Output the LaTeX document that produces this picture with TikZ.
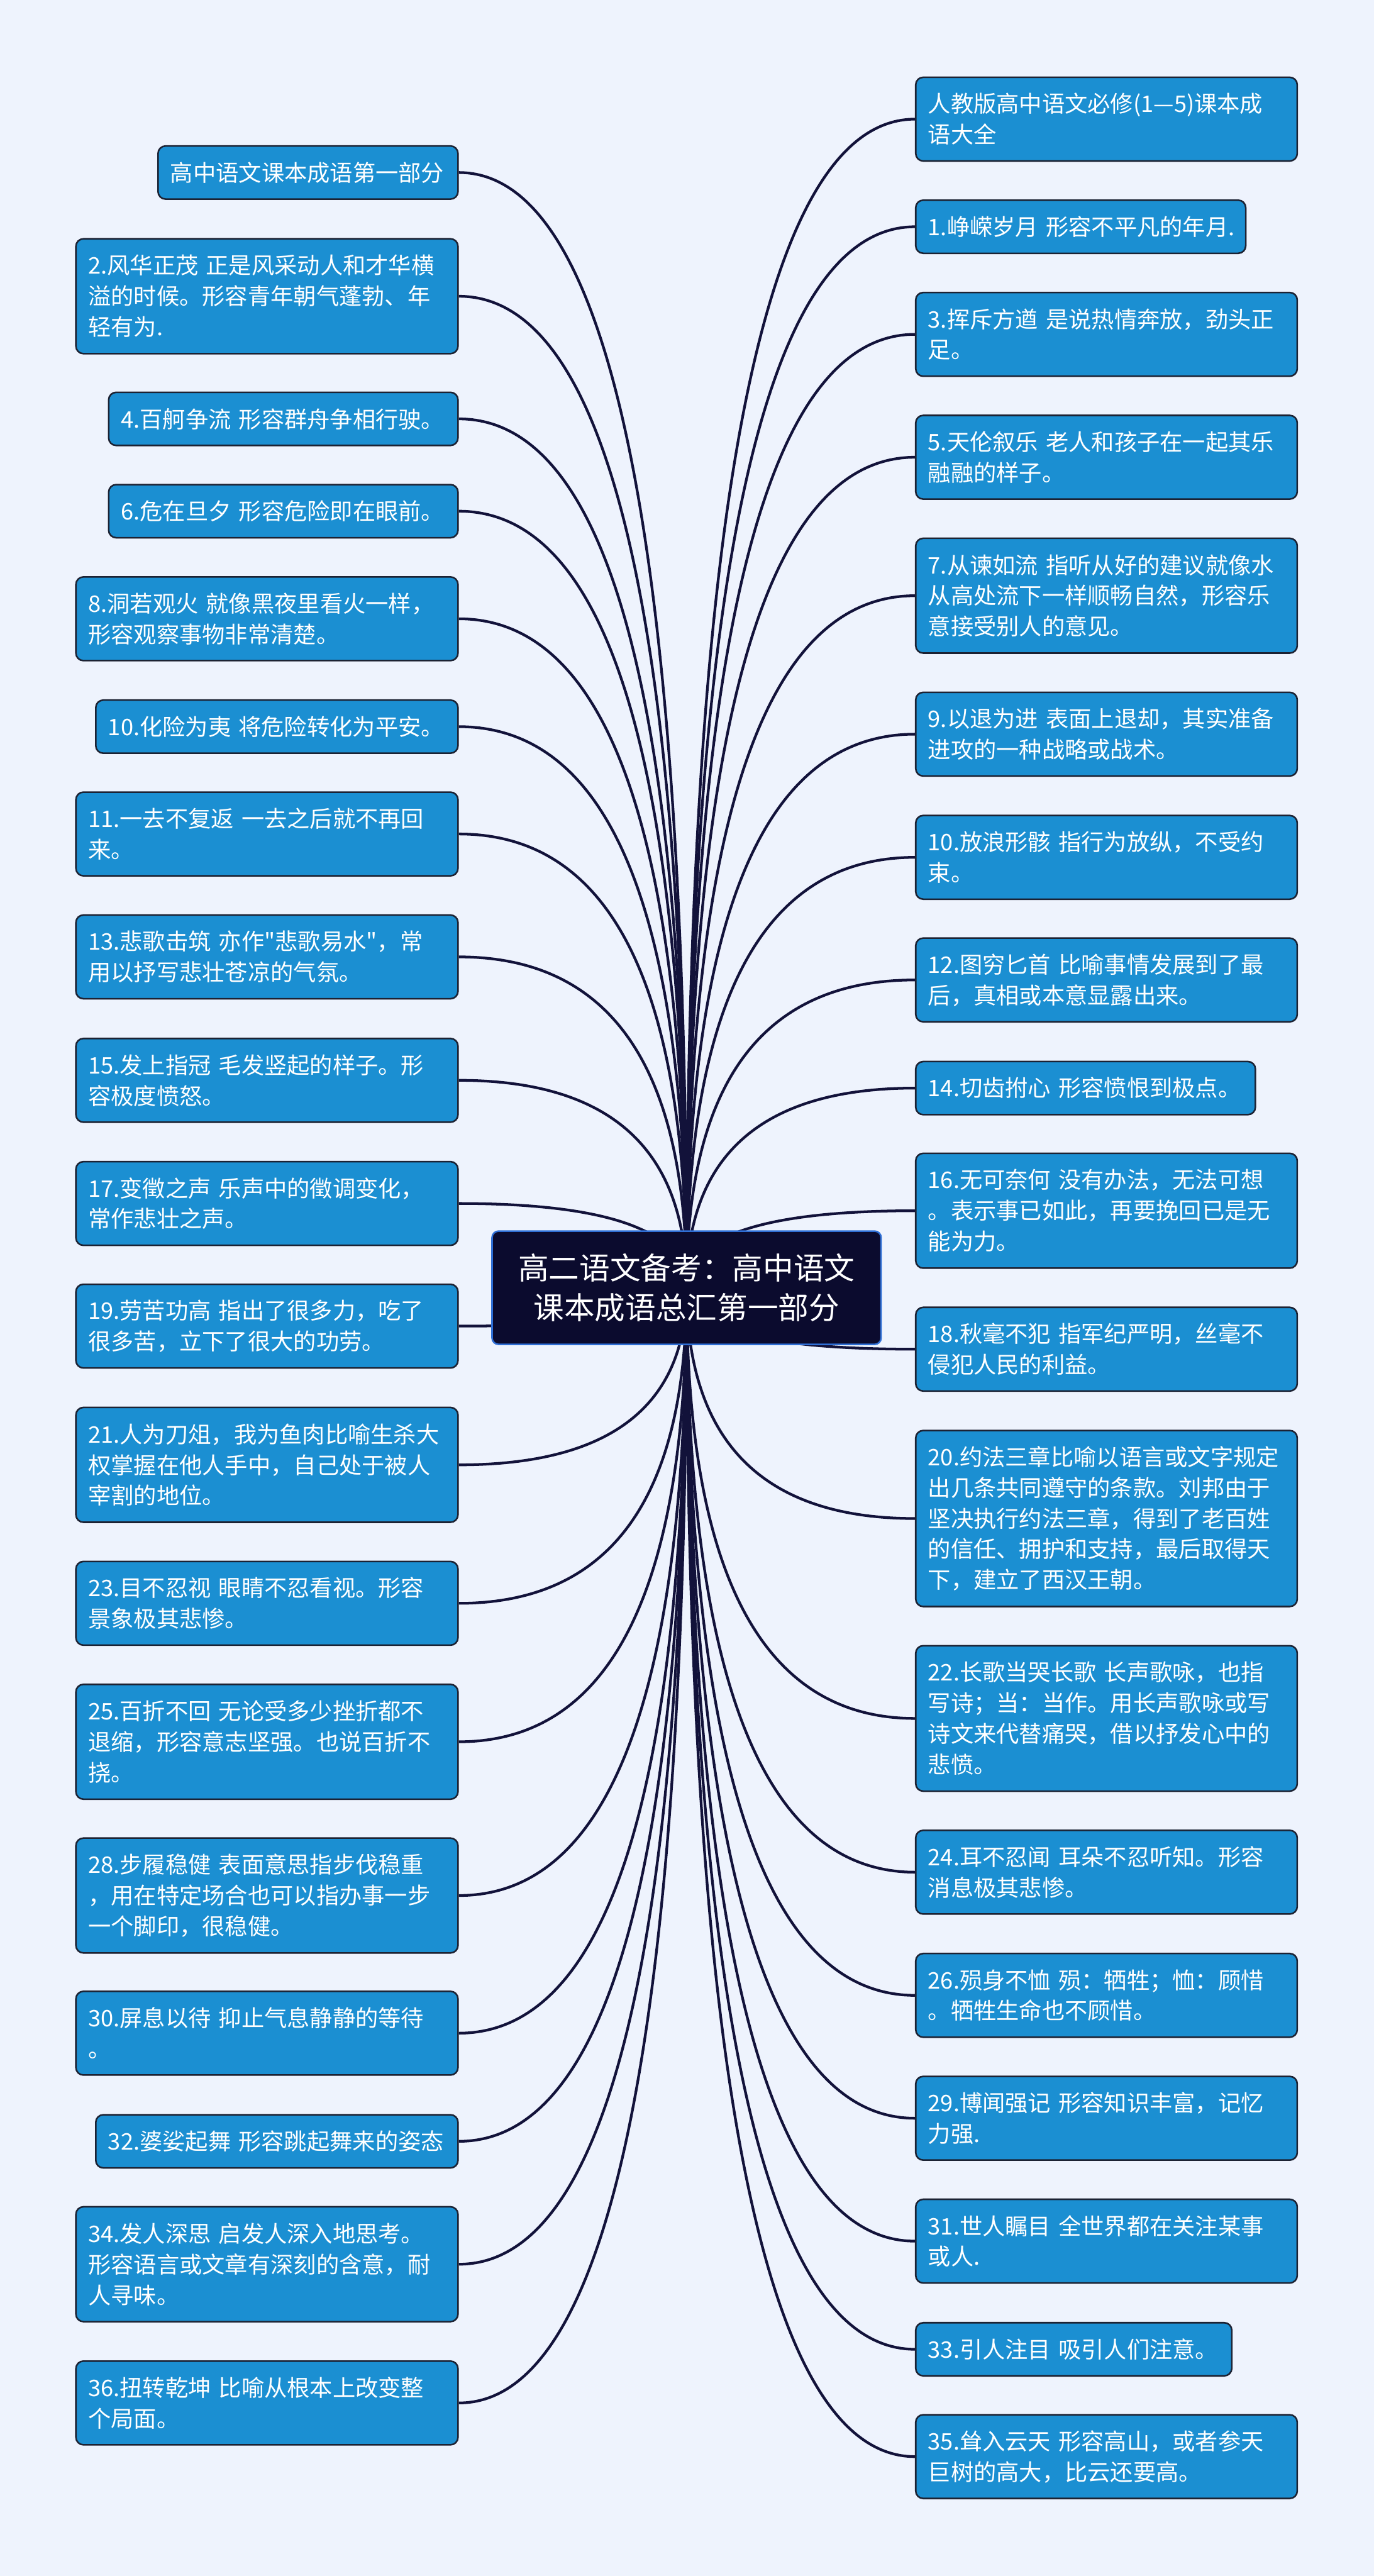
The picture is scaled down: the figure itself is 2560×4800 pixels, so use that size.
\documentclass[tikz,border=0pt]{standalone}
\usepackage{fontspec}
\newfontfamily\cjkf{Noto Sans CJK SC}
\usetikzlibrary{backgrounds,calc}
\definecolor{bgc}{HTML}{EEF3FD}
\definecolor{boxfill}{HTML}{1B8FD2}
\definecolor{boxline}{HTML}{1C2233}
\definecolor{rootfill}{HTML}{0B0B2E}
\definecolor{rootline}{HTML}{2F6FD6}
\definecolor{conncol}{HTML}{12123A}
\tikzset{
  leaf/.style={draw=boxline, line width=3pt, fill=boxfill, rounded corners=14pt,
    text=white, font=\cjkf\fontsize{42.5}{57.3}\selectfont, align=left,
    inner xsep=23pt, inner ysep=0pt},
  leafL/.style={leaf, anchor=east},
  leafR/.style={leaf, anchor=west},
  hA/.style={minimum height=99pt},
  hB/.style={minimum height=156pt},
  hC/.style={minimum height=214pt},
  hD/.style={minimum height=271pt},
  hE/.style={minimum height=328pt},
  wideL/.style={text width=666pt},
  wideR/.style={text width=665pt},
  rootbox/.style={draw=rootline, line width=3pt, fill=rootfill, rounded corners=12pt,
    text=white, font=\cjkf\fontsize{57}{74}\selectfont, align=center,
    minimum width=725pt, minimum height=211pt, inner sep=0pt},
  conn/.style={draw=conncol, line width=5pt},
}
\begin{document}
\begin{tikzpicture}[x=1pt,y=-1pt]
\useasboundingbox (0,0) rectangle (2560,4800);
% root
\node[rootbox] (root) at (1279.5,2399.5) {高二语文备考：高中语文\\课本成语总汇第一部分};
% left column
\node[leafL,hA,text width=513pt] (L0) at (855,321.5) {高中语文课本成语第一部分};
\node[leafL,hC,wideL] (L2) at (855,552) {2.风华正茂 正是风采动人和才华横\\溢的时候。形容青年朝气蓬勃、年\\轻有为.};
\node[leafL,hA,text width=605pt] (L4) at (855,780.5) {4.百舸争流~形容群舟争相行驶。};
\node[leafL,hA,text width=605pt] (L6) at (855,952.5) {6.危在旦夕~形容危险即在眼前。};
\node[leafL,hB,wideL] (L8) at (855,1153) {8.洞若观火 就像黑夜里看火一样，\\形容观察事物非常清楚。};
\node[leafL,hA,text width=629pt] (L10) at (855,1354) {10.化险为夷~将危险转化为平安。};
\node[leafL,hB,wideL] (L11) at (855,1554) {11.一去不复返 一去之后就不再回\\来。};
\node[leafL,hB,wideL] (L13) at (855,1783) {13.悲歌击筑 亦作"悲歌易水"，常\\用以抒写悲壮苍凉的气氛。};
\node[leafL,hB,wideL] (L15) at (855,2013) {15.发上指冠 毛发竖起的样子。形\\容极度愤怒。};
\node[leafL,hB,wideL] (L17) at (855,2242.5) {17.变徵之声 乐声中的徵调变化，\\常作悲壮之声。};
\node[leafL,hB,wideL] (L19) at (855,2471) {19.劳苦功高 指出了很多力，吃了\\很多苦，立下了很大的功劳。};
\node[leafL,hC,wideL] (L21) at (855,2729.5) {21.人为刀俎，我为鱼肉比喻生杀大\\权掌握在他人手中，自己处于被人\\宰割的地位。};
\node[leafL,hB,wideL] (L23) at (855,2987.5) {23.目不忍视 眼睛不忍看视。形容\\景象极其悲惨。};
\node[leafL,hC,wideL] (L25) at (855,3245.5) {25.百折不回 无论受多少挫折都不\\退缩，形容意志坚强。也说百折不\\挠。};
\node[leafL,hC,wideL] (L28) at (855,3532) {28.步履稳健 表面意思指步伐稳重\\，用在特定场合也可以指办事一步\\一个脚印，很稳健。};
\node[leafL,hB,wideL] (L30) at (855,3788.5) {30.屏息以待 抑止气息静静的等待\\。};
\node[leafL,hA,text width=629pt] (L32) at (855,3990) {32.婆娑起舞~形容跳起舞来的姿态};
\node[leafL,hC,wideL] (L34) at (855,4219) {34.发人深思 启发人深入地思考。\\形容语言或文章有深刻的含意，耐\\人寻味。};
\node[leafL,hB,wideL] (L36) at (855,4477.5) {36.扭转乾坤 比喻从根本上改变整\\个局面。};
% right column
\node[leafR,hB,wideR] (R0) at (1705,222) {人教版高中语文必修(1—5)课本成\\语大全};
\node[leafR,hA,text width=569pt] (R1) at (1705,422.5) {1.峥嵘岁月~形容不平凡的年月.};
\node[leafR,hB,wideR] (R3) at (1705,623) {3.挥斥方遒 是说热情奔放，劲头正\\足。};
\node[leafR,hB,wideR] (R5) at (1705,852) {5.天伦叙乐 老人和孩子在一起其乐\\融融的样子。};
\node[leafR,hC,wideR] (R7) at (1705,1110) {7.从谏如流 指听从好的建议就像水\\从高处流下一样顺畅自然，形容乐\\意接受别人的意见。};
\node[leafR,hB,wideR] (R9) at (1705,1368) {9.以退为进 表面上退却，其实准备\\进攻的一种战略或战术。};
\node[leafR,hB,wideR] (R10) at (1705,1597.5) {10.放浪形骸 指行为放纵，不受约\\束。};
\node[leafR,hB,wideR] (R12) at (1705,1826) {12.图穷匕首 比喻事情发展到了最\\后，真相或本意显露出来。};
\node[leafR,hA,text width=587pt] (R14) at (1705,2027.5) {14.切齿拊心~形容愤恨到极点。};
\node[leafR,hC,wideR] (R16) at (1705,2256) {16.无可奈何 没有办法，无法可想\\。表示事已如此，再要挽回已是无\\能为力。};
\node[leafR,hB,wideR] (R18) at (1705,2514) {18.秋毫不犯 指军纪严明，丝毫不\\侵犯人民的利益。};
\node[leafR,hE,wideR] (R20) at (1705,2829.5) {20.约法三章比喻以语言或文字规定\\出几条共同遵守的条款。刘邦由于\\坚决执行约法三章，得到了老百姓\\的信任、拥护和支持，最后取得天\\下，建立了西汉王朝。};
\node[leafR,hD,wideR] (R22) at (1705,3202) {22.长歌当哭长歌 长声歌咏，也指\\写诗；当：当作。用长声歌咏或写\\诗文来代替痛哭，借以抒发心中的\\悲愤。};
\node[leafR,hB,wideR] (R24) at (1705,3488.5) {24.耳不忍闻 耳朵不忍听知。形容\\消息极其悲惨。};
\node[leafR,hB,wideR] (R26) at (1705,3718) {26.殒身不恤 殒：牺牲；恤：顾惜\\。牺牲生命也不顾惜。};
\node[leafR,hB,wideR] (R29) at (1705,3947) {29.博闻强记 形容知识丰富，记忆\\力强.};
\node[leafR,hB,wideR] (R31) at (1705,4176) {31.世人瞩目 全世界都在关注某事\\或人.};
\node[leafR,hA,text width=543pt] (R33) at (1705,4377.5) {33.引人注目~吸引人们注意。};
\node[leafR,hB,wideR] (R35) at (1705,4577.5) {35.耸入云天 形容高山，或者参天\\巨树的高大，比云还要高。};
\begin{scope}[on background layer]
  \fill[bgc] (0,0) rectangle (2560,4800);
  \foreach \n in {L0,L2,L4,L6,L8,L10,L11,L13,L15,L17,L19,L21,L23,L25,L28,L30,L32,L34,L36}{
    \coordinate (k\n) at (root.center |- \n.east);
    \draw[conn] (root.center) .. controls ($(root.center)!0.6667!(k\n)$) and ($(\n.east)!0.6667!(k\n)$) .. (\n.east);
  }
  \foreach \n in {R0,R1,R3,R5,R7,R9,R10,R12,R14,R16,R18,R20,R22,R24,R26,R29,R31,R33,R35}{
    \coordinate (k\n) at (root.center |- \n.west);
    \draw[conn] (root.center) .. controls ($(root.center)!0.6667!(k\n)$) and ($(\n.west)!0.6667!(k\n)$) .. (\n.west);
  }
\end{scope}
\end{tikzpicture}
\end{document}
